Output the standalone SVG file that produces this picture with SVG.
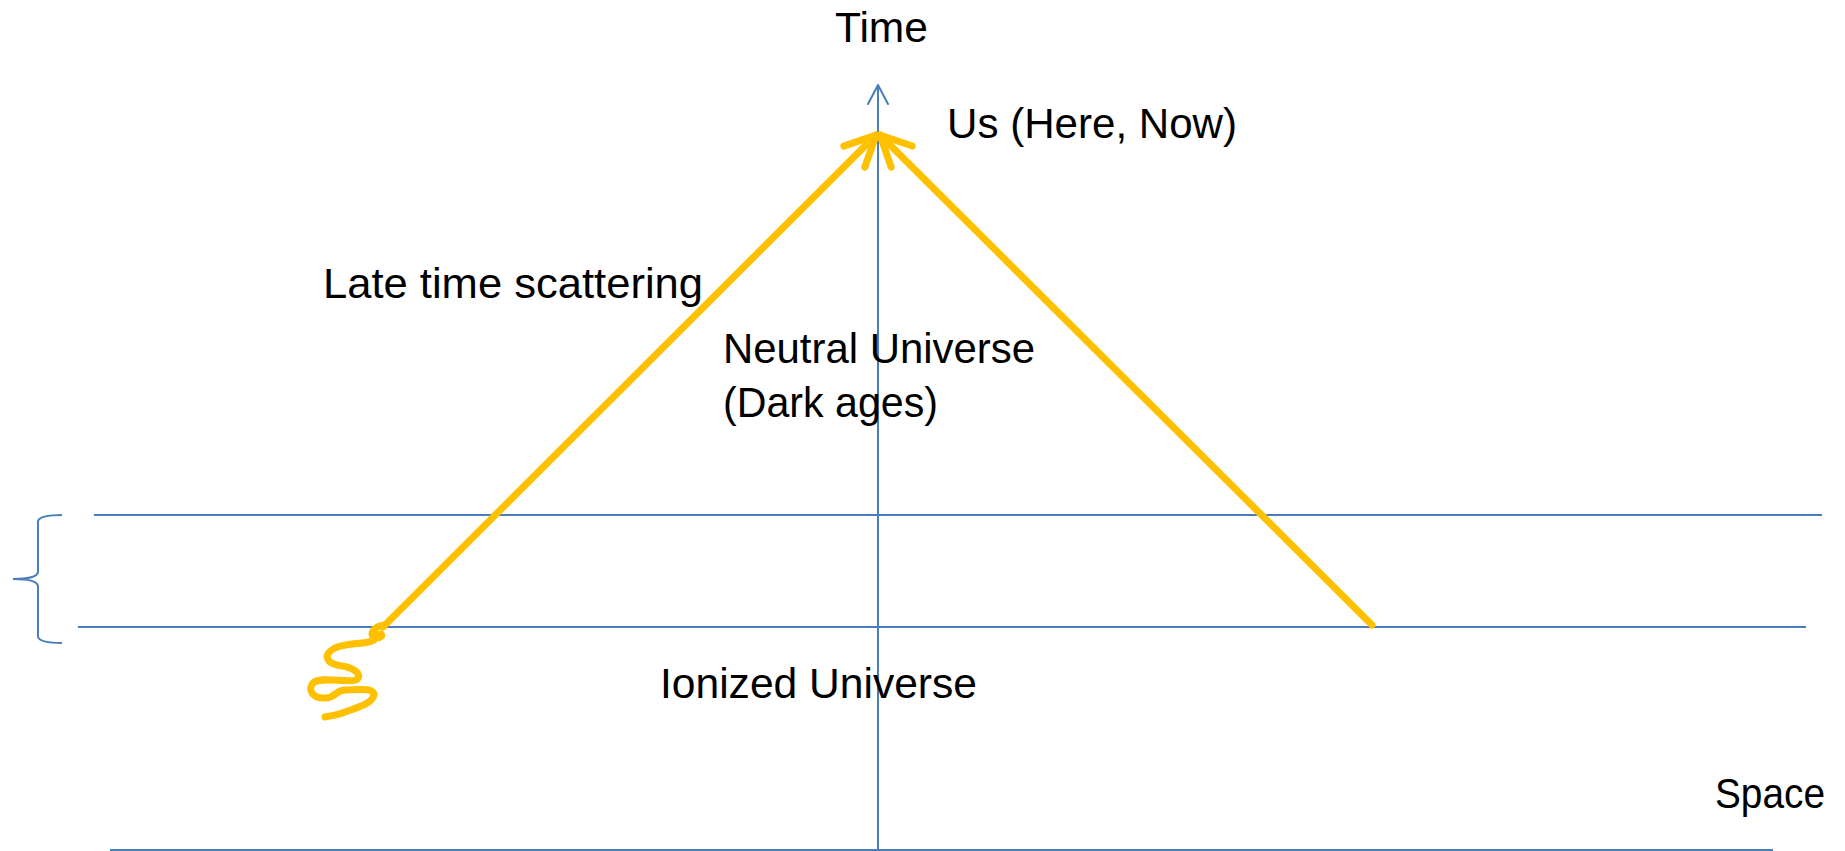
<svg xmlns="http://www.w3.org/2000/svg" width="1845" height="851" viewBox="0 0 1845 851">
<style>
.blue{stroke:#4A7EBB;stroke-width:2;fill:none}
.orange{stroke:#FFC000;stroke-width:7;fill:none;stroke-linecap:round;stroke-linejoin:round}
.lbl{font-family:"Liberation Sans",Arial,sans-serif;font-size:43px;fill:#000}
</style>
<defs>
<marker id="axisHead" markerUnits="userSpaceOnUse" viewBox="-25 -15 30 30" markerWidth="30" markerHeight="30" refX="0" refY="0" orient="auto" overflow="visible">
<path d="M-19,-10 L0,0 L-19,10" fill="none" stroke="#4A7EBB" stroke-width="2" stroke-linecap="round" stroke-linejoin="round"/>
</marker>
<marker id="orangeHead" markerUnits="userSpaceOnUse" viewBox="-40 -20 45 40" markerWidth="45" markerHeight="40" refX="0" refY="0" orient="auto" overflow="visible">
<path d="M-30.6,-14.9 L0,0 L-30.6,14.9" fill="none" stroke="#FFC000" stroke-width="7" stroke-linecap="round" stroke-linejoin="round"/>
</marker>
</defs>
<g id="connectors">
<line class="blue" x1="110" y1="850" x2="1773" y2="850"/>
<line class="blue" x1="94" y1="515" x2="1822" y2="515"/>
<line class="blue" x1="78" y1="627" x2="1806" y2="627"/>
<line class="blue" x1="878" y1="851" x2="878" y2="85" marker-end="url(#axisHead)"/>
<path class="blue" d="M62,515 Q40,515 38,521 L38,572 Q37,579 13,579 Q37,579 38,586 L38,637 Q40,643 62,643"/>
<line class="orange" x1="383" y1="627" x2="876" y2="135" marker-end="url(#orangeHead)"/>
<line class="orange" x1="1372" y1="625" x2="880" y2="135" marker-end="url(#orangeHead)"/>
<path class="orange" d="M384,625 C372,627 368,637 377,638 C385,638 382,628 374,640 C366,645 348,642 335,648 C322,655 326,664 342,666 C356,668 363,676 356,680 C346,683 320,676 313,683 C307,690 313,699 326,698 C336,697 336,690 345,690 C356,690 374,687 374,695 C372,704 356,708 345,712 C338,715 330,716 325,717"/>
</g>
<g id="time"><text class="lbl" x="835" y="42" textLength="93" lengthAdjust="spacingAndGlyphs">Time</text></g>
<g id="us"><text class="lbl" x="947" y="138" textLength="290" lengthAdjust="spacingAndGlyphs">Us (Here, Now)</text></g>
<g id="late"><text class="lbl" x="323" y="298" textLength="380" lengthAdjust="spacingAndGlyphs">Late time scattering</text></g>
<g id="neutral"><text class="lbl" x="723" y="363" textLength="312" lengthAdjust="spacingAndGlyphs">Neutral Universe</text><text class="lbl" x="723" y="417" textLength="215" lengthAdjust="spacingAndGlyphs">(Dark ages)</text></g>
<g id="ionized"><text class="lbl" x="660" y="698" textLength="317" lengthAdjust="spacingAndGlyphs">Ionized Universe</text></g>
<g id="space"><text class="lbl" x="1715" y="808" textLength="110" lengthAdjust="spacingAndGlyphs">Space</text></g>
</svg>
